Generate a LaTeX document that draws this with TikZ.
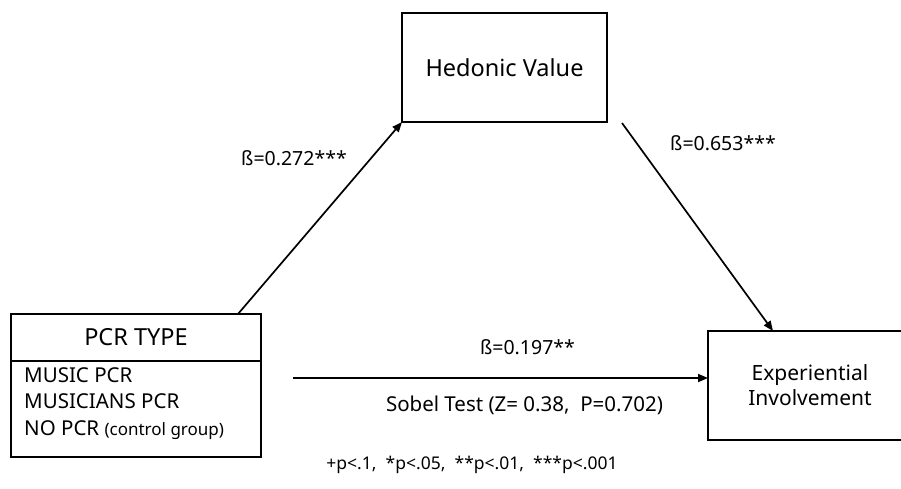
\documentclass[tikz,border=0pt]{standalone}
\usepackage{fontspec}
\setmainfont{Noto Sans}
\usetikzlibrary{arrows.meta,calc}
\tikzset{
  boxs/.style={draw=black, line width=1.3pt, inner sep=0pt, outer sep=0pt, align=center},
  conn/.style={line width=1.7pt, -{Triangle[length=10pt,width=8pt]}},
  lbl/.style={inner sep=0pt, anchor=center},
}
\begin{document}
\begin{tikzpicture}[x=1pt,y=-1pt]
\useasboundingbox (0,0) rectangle (901,488);
% Hedonic value
\node[boxs, minimum width=205pt, minimum height=109pt, font=\fontsize{23.5}{28}\selectfont] (hed) at (504.5,67.5) {Hedonic Value};
% PCR type
\node[boxs, minimum width=250pt, minimum height=47pt, font=\fontsize{23.5}{28}\selectfont] (pcrh) at (136,337.5) {PCR TYPE};
\node[boxs, minimum width=250pt, minimum height=96pt, anchor=north] (pcrb) at (pcrh.south) {};
\node[lbl, anchor=north west, align=left, font=\fontsize{20.5}{26.5}\selectfont] (pcrt) at (24,367) {MUSIC PCR\\MUSICIANS PCR\\NO PCR {\fontsize{17}{26.5}\selectfont (control group)}};
% Experiential involvement
\node[boxs, minimum width=204pt, minimum height=109pt, font=\fontsize{21}{25}\selectfont] (exp) at (810,385.5) {Experiential\\Involvement};
% connectors
\coordinate (a1) at (238,314);
\coordinate (a2) at (622,123);
\coordinate (a3) at (293,378);
\draw[conn] (a1) -- (hed.south west);
\draw[conn] (a2) -- (exp.north -| 773,0);
\draw[conn] (a3) -- (exp.west |- a3);
% labels
\node[lbl, font=\fontsize{19.5}{22}\selectfont] (b1) at (294,158) {ß=0.272***};
\node[lbl, font=\fontsize{19.5}{22}\selectfont] (b2) at (723,143) {ß=0.653***};
\node[lbl, font=\fontsize{19.5}{22}\selectfont] (b3) at (527.5,347) {ß=0.197**};
\node[lbl, font=\fontsize{20.5}{22}\selectfont] (sob) at (524.5,405) {Sobel Test (Z= 0.38,\ \ P=0.702)};
\node[lbl, font=\fontsize{17.5}{20}\selectfont] (fn) at (472,465) {+p<.1,\ \ *p<.05,\ \ **p<.01,\ \ ***p<.001};
\end{tikzpicture}
\end{document}
